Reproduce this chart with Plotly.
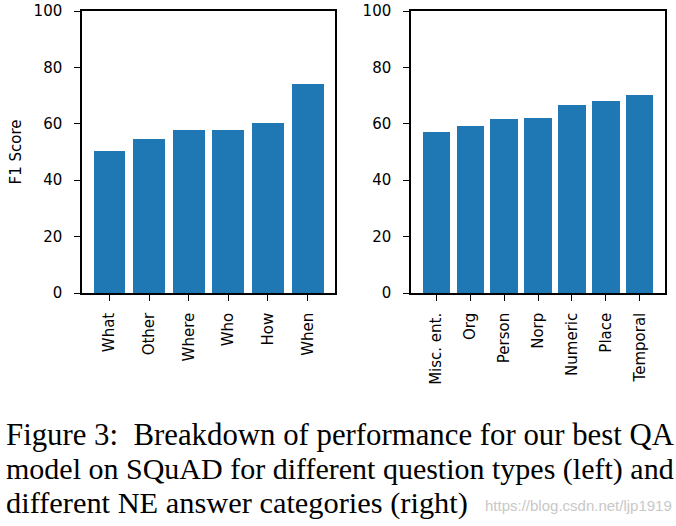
import plotly.graph_objects as go

q_types = ["What", "Other", "Where", "Who", "How", "When"]
q_f1 = [50.3, 54.6, 57.8, 57.8, 60.2, 74.1]

ne_types = ["Misc. ent.", "Org", "Person", "Norp", "Numeric", "Place", "Temporal"]
ne_f1 = [57.0, 59.2, 61.7, 62.0, 66.6, 68.0, 70.2]

y_ticks = [0, 20, 40, 60, 80, 100]
y_label = "F1 Score"
caption_lines = [
    "Figure 3:  Breakdown of performance for our best QA",
    "model on SQuAD for different question types (left) and",
    "different NE answer categories (right)",
]
caption_sizes = [30.8, 30.0, 30.4]
watermark = "https://blog.csdn.net/ljp1919"

BAR_COLOR = "#1f77b4"
W, H = 676, 526

fig = go.Figure()
fig.add_trace(go.Bar(x=q_types, y=q_f1, width=0.8, marker=dict(color=BAR_COLOR, line=dict(width=0)),
                     xaxis="x", yaxis="y", showlegend=False))
fig.add_trace(go.Bar(x=ne_types, y=ne_f1, width=0.8, marker=dict(color=BAR_COLOR, line=dict(width=0)),
                     xaxis="x2", yaxis="y2", showlegend=False))

tick_font = dict(family="DejaVu Sans", size=15, color="#000000")
y_top = 1 - 11 / H
y_bot = 1 - 293 / H

common_x = dict(type="category", showline=True, mirror=True, linecolor="#000000", linewidth=1.5,
                ticks="outside", ticklen=6, tickwidth=1.3, tickcolor="#000000",
                tickangle=-90, tickfont=tick_font, showgrid=False, zeroline=False,
                ticklabelstandoff=6, automargin=False)
common_y = dict(range=[0, 100], tickvals=y_ticks, showline=True, mirror=True, linecolor="#000000",
                linewidth=1.5, ticks="outside", ticklen=6, tickwidth=1.3, tickcolor="#000000",
                tickfont=tick_font, showgrid=False, zeroline=False, ticklabelstandoff=9,
                automargin=False)

n1, n2 = len(q_types), len(ne_types)
r1 = [-0.4 - 0.05 * (n1 - 0.2), n1 - 0.6 + 0.05 * (n1 - 0.2)]
r2 = [-0.4 - 0.05 * (n2 - 0.2), n2 - 0.6 + 0.05 * (n2 - 0.2)]

fig.update_layout(
    width=W, height=H,
    margin=dict(l=0, r=0, t=0, b=0),
    paper_bgcolor="white", plot_bgcolor="white",
    bargap=0,
    xaxis=dict(domain=[82 / W, 335 / W], range=r1, anchor="y", **common_x),
    yaxis=dict(domain=[y_bot, y_top], anchor="x",
               title=dict(text=y_label, font=tick_font, standoff=8), **common_y),
    xaxis2=dict(domain=[411 / W, 665 / W], range=r2, anchor="y2", **common_x),
    yaxis2=dict(domain=[y_bot, y_top], anchor="x2", **common_y),
)

line_y = [435, 469, 503]
for txt, yy, fs in zip(caption_lines, line_y, caption_sizes):
    fig.add_annotation(text=txt, x=4 / W, y=1 - yy / H, xref="paper", yref="paper",
                       xanchor="left", yanchor="middle", showarrow=False,
                       font=dict(family="Liberation Serif", size=fs, color="#000000"))
fig.add_annotation(text=watermark, x=674 / W, y=1 - 505 / H, xref="paper", yref="paper",
                   xanchor="right", yanchor="middle", showarrow=False,
                   font=dict(family="Liberation Sans", size=15, color="#c8c8c8"))

fig.write_html("out.html", config={"displayModeBar": False},
               post_script="document.body.style.margin='0';")
